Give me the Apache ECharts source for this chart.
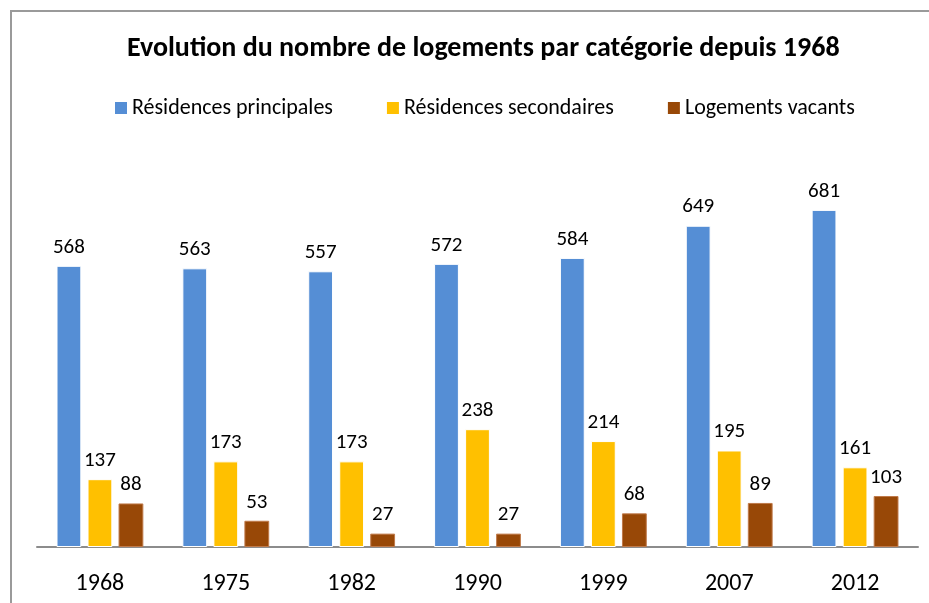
<!DOCTYPE html>
<html>
<head>
<meta charset="utf-8">
<script src="https://cdn.jsdelivr.net/npm/echarts@6/dist/echarts.min.js"></script>
<style>
  html, body { margin: 0; padding: 0; background: #fff; overflow: hidden; }
  #chart { width: 929px; height: 603px; }
  #frame { position: absolute; left: 10px; top: 10px; width: 940px; height: 620px;
           border: 2px solid #9a9a9a; box-sizing: border-box; pointer-events: none; }
</style>
</head>
<body>
<div id="chart"></div>
<div id="frame"></div>
<script>
  const years = ['1968', '1975', '1982', '1990', '1999', '2007', '2012']
  const principales = [568, 563, 557, 572, 584, 649, 681]
  const secondaires = [137, 173, 173, 238, 214, 195, 161]
  const vacants = [88, 53, 27, 27, 68, 89, 103]

  const font = 'Carlito, "Liberation Sans Narrow", "Open Sans", sans-serif'

  const chart = echarts.init(document.getElementById('chart'))

  const label = {
    show: true,
    position: 'top',
    distance: 8,
    color: '#000',
    fontSize: 21,
    fontFamily: font
  }

  chart.setOption({
    animation: false,
    title: {
      text: 'Evolution du nombre de logements par catégorie depuis 1968',
      left: 122,
      top: 30,
      textStyle: { fontSize: 28, fontWeight: 'bold', color: '#000', fontFamily: font }
    },
    legend: {
      top: 92,
      left: 110,
      itemWidth: 12,
      itemHeight: 12,
      itemGap: 54,
      icon: 'rect',
      itemStyle: { borderWidth: 0 },
      textStyle: { fontSize: 22, color: '#000', fontFamily: font },
      data: ['Résidences principales', 'Résidences secondaires', 'Logements vacants']
    },
    grid: { left: 37, right: 11, top: 151, bottom: 56 },
    xAxis: {
      type: 'category',
      data: years,
      axisLine: { lineStyle: { color: '#8c8c8c', width: 2 } },
      axisTick: { show: false },
      axisLabel: { fontSize: 24, color: '#000', margin: 25, fontFamily: font }
    },
    yAxis: {
      type: 'value',
      min: 0,
      max: 800,
      show: false,
      splitLine: { show: false }
    },
    series: [
      {
        name: 'Résidences principales',
        type: 'bar',
        data: principales,
        barGap: '25%',
        barCategoryGap: '31%',
        itemStyle: { color: '#558ed5', borderColor: '#fff', borderWidth: 1 },
        label: label
      },
      {
        name: 'Résidences secondaires',
        type: 'bar',
        data: secondaires,
        itemStyle: { color: '#ffc000', borderColor: '#fff', borderWidth: 1 },
        label: label
      },
      {
        name: 'Logements vacants',
        type: 'bar',
        data: vacants,
        itemStyle: { color: '#984807', borderColor: '#c07a4a', borderWidth: 1 },
        label: label
      }
    ]
  })
</script>
</body>
</html>
